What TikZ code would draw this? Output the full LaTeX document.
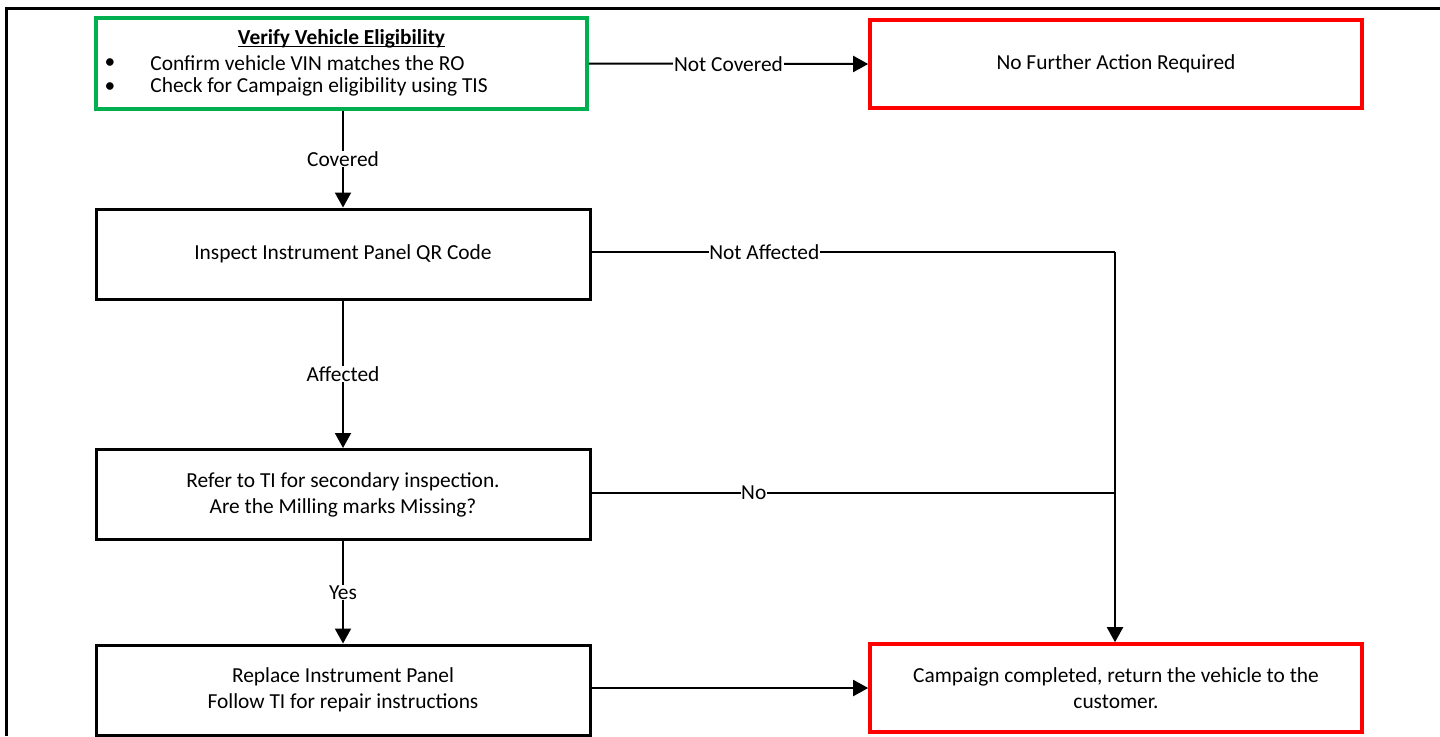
\documentclass[tikz,border=0pt]{standalone}
\usepackage{fontspec}
\setmainfont{Carlito}
\usetikzlibrary{arrows.meta}
\definecolor{boxgreen}{RGB}{0,176,80}
\definecolor{boxred}{RGB}{255,0,0}
\newcommand{\myul}[1]{\setbox0\hbox{#1}\rlap{\rule[-1.1pt]{\wd0}{0.6pt}}\box0}
\tikzset{
  px/.style={x=0.5pt,y=-0.5pt},
  fnt/.style={font=\fontsize{10.7}{13}\selectfont},
  blackbox/.style={fnt,draw=black,line width=1.5pt,rectangle,minimum width=247pt,minimum height=45pt,align=center,inner sep=0pt},
  redbox/.style={fnt,draw=boxred,line width=1.8pt,rectangle,minimum width=246pt,minimum height=44pt,align=center,inner sep=0pt},
  greenbox/.style={draw=boxgreen,line width=1.8pt,rectangle,minimum width=245.5pt,minimum height=45.5pt,inner sep=0pt},
  txt/.style={fnt,inner sep=0pt},
  conn/.style={draw=black,line width=1pt},
  arr/.style={conn,-{Triangle[length=7.5pt,width=8pt]}},
  lbl/.style={fnt,fill=white,inner sep=0.3pt}
}
\begin{document}
\begin{tikzpicture}[px]
\useasboundingbox (0,0) rectangle (1440,736);
% frame lines
\coordinate (ftl) at (6,8);
\coordinate (ftr) at (1440,8);
\coordinate (fbl) at (6,736);
\draw[line width=1.5pt] (fbl) -- (ftl) -- (ftr);
% boxes
\node[greenbox] (verify) at (341.5,63.5) {};
\node[txt,anchor=center] (vtitle) at (341.5,39) {\myul{\textbf{Verify Vehicle Eligibility}}};
\node[txt] (b1) at (110,64) {\textbullet};
\node[txt] (b2) at (110,88) {\textbullet};
\node[txt,anchor=west] (t1) at (150,63) {Confirm vehicle VIN matches the RO};
\node[txt,anchor=west] (t2) at (150,87) {Check for Campaign eligibility using TIS};
\node[redbox] (nofurther) at (1116,64) {No Further Action Required};
\node[blackbox] (inspect) at (343,254) {Inspect Instrument Panel QR Code};
\node[blackbox] (refer) at (343,494.5) {Refer to TI for secondary inspection.\\Are the Milling marks Missing?};
\node[blackbox] (replace) at (343,690) {Replace Instrument Panel\\Follow TI for repair instructions};
\node[redbox] (done) at (1116,688) {Campaign completed, return the vehicle to the\\customer.};
% connectors
\draw[arr] (verify.east) -- node[lbl,pos=0.5] {Not Covered} (nofurther.west);
\draw[arr] (verify.south -| inspect.north) -- node[lbl,pos=0.5] {Covered} (inspect.north);
\draw[arr] (inspect.south) -- node[lbl,pos=0.5] {Affected} (refer.north);
\draw[arr] (refer.south) -- node[lbl,pos=0.5] {Yes} (replace.north);
\coordinate (c1) at (1115,252);
\coordinate (c2) at (1115,493);
\draw[conn] (inspect.east |- c1) -- node[lbl,pos=0.33] {Not Affected} (c1);
\draw[arr] (c1) -- (c1 |- done.north);
\draw[conn] (refer.east |- c2) -- node[lbl,pos=0.31] {No} (c2);
\draw[arr] (replace.east |- done.west) -- (done.west);
\end{tikzpicture}
\end{document}
